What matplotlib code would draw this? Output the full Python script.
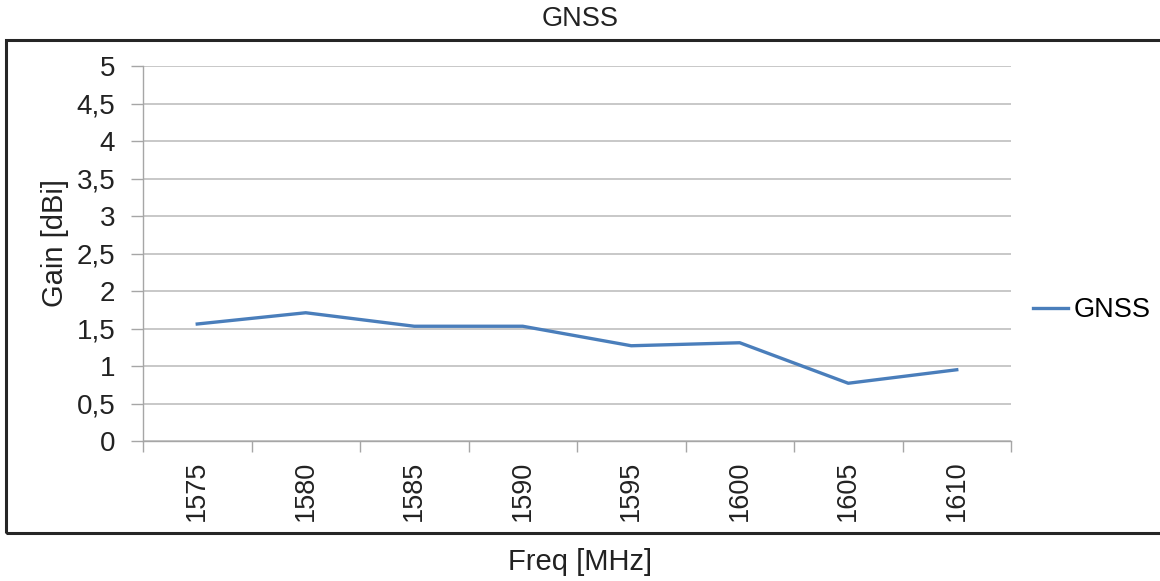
import matplotlib.pyplot as plt
from matplotlib.patches import Rectangle
from matplotlib.ticker import FixedLocator, FuncFormatter
import numpy as np

plt.rcParams['font.family'] = ['Liberation Sans', 'DejaVu Sans']

# data
freqs = ['1575', '1580', '1585', '1590', '1595', '1600', '1605', '1610']
gain = [1.56, 1.71, 1.53, 1.53, 1.27, 1.31, 0.77, 0.95]
y_ticks = [0, 0.5, 1, 1.5, 2, 2.5, 3, 3.5, 4, 4.5, 5]

fig = plt.figure(figsize=(11.6, 5.81), dpi=100)

# outer chart frame (right side runs off the image)
frame = Rectangle((6 / 1160, 1 - 533 / 581), 1.2, (533 - 40) / 581,
                  transform=fig.transFigure, fill=False,
                  edgecolor='#262626', linewidth=2.2, clip_on=False)
fig.patches.append(frame)

ax = fig.add_axes([143 / 1160, 1 - 441 / 581, (1011 - 143) / 1160, (441 - 66) / 581])

x = np.arange(len(freqs))
ax.plot(x, gain, color='#4a7ebb', linewidth=2.4, label='GNSS')

ax.set_xlim(-0.5, len(freqs) - 0.5)
ax.set_ylim(0, 5)

# x ticks sit on category boundaries, labels at centres
ax.xaxis.set_major_locator(FixedLocator(np.arange(-0.5, len(freqs), 1)))
ax.xaxis.set_major_formatter(FuncFormatter(lambda v, p: ''))
ax.xaxis.set_minor_locator(FixedLocator(x))
ax.set_xticklabels(freqs, minor=True, rotation=90, fontsize=19.5, color='#222222')
ax.tick_params(axis='x', which='minor', length=0, pad=14)
ax.tick_params(axis='x', which='major', length=8, color='#a6a6a6', width=1)

ax.set_yticks(y_ticks)
ax.yaxis.set_major_formatter(FuncFormatter(lambda v, p: ('%g' % v).replace('.', ',')))
ax.tick_params(axis='y', length=9, color='#a6a6a6', width=1, labelsize=20,
               labelcolor='#222222', pad=11)

ax.grid(axis='y', color='#bfbfbf', linewidth=1.2)
ax.set_axisbelow(True)
for side in ['top', 'right']:
    ax.spines[side].set_visible(False)
for side in ['left', 'bottom']:
    ax.spines[side].set_color('#a6a6a6')
    ax.spines[side].set_linewidth(1)

fig.text(55 / 1160, 1 - 243 / 581, 'Gain [dBi]', rotation=90, ha='center', va='center',
         fontsize=21, color='#222222')
fig.text(0.5, 1 - 19 / 581, 'GNSS', ha='center', va='center', fontsize=19.5, color='#222222')
fig.text(0.5, 1 - 562 / 581, 'Freq [MHz]', ha='center', va='center', fontsize=21, color='#222222')

ax.legend(loc='center left', bbox_to_anchor=(1033 / 1160, 1 - 310 / 581),
          bbox_transform=fig.transFigure, frameon=False, fontsize=19.5,
          handlelength=1.3, handletextpad=0.2, borderaxespad=0, borderpad=0)

fig.savefig('out.png', dpi=100)
